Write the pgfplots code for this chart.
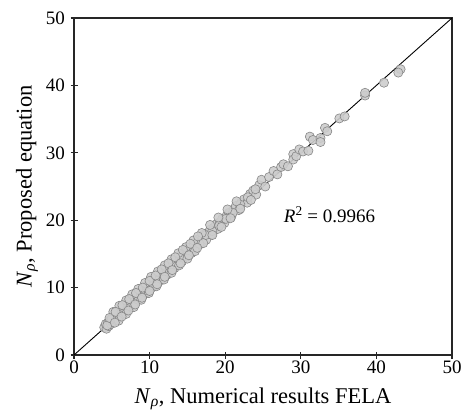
\documentclass[border=0pt]{standalone}
\usepackage{pgfplots}
\pgfplotsset{compat=1.18}
\usepackage{fontspec}
\setmainfont{Liberation Serif}

\definecolor{markfill}{RGB}{205,205,205}
\definecolor{markedge}{RGB}{135,135,135}

\pgfplotstableread{
x y
4.0 4.1
4.2 4.6
4.3 3.9
4.5 4.8
4.6 4.3
4.8 5.2
4.9 4.6
5.0 5.0
5.1 5.6
5.2 4.9
5.3 5.3
5.4 5.9
5.5 5.2
5.6 5.7
5.7 6.2
5.8 5.5
5.9 6.0
6.0 6.6
6.1 5.8
6.2 6.3
6.3 6.9
6.4 6.1
6.5 6.6
6.6 7.2
6.7 6.4
6.8 7.0
6.9 7.5
7.0 6.8
7.1 7.3
7.2 7.8
7.3 7.0
7.4 7.6
7.5 8.1
7.6 7.3
7.7 7.9
7.8 8.4
7.9 7.6
8.0 8.2
8.1 8.7
8.2 7.9
8.3 8.5
8.4 9.0
8.5 8.2
8.6 8.8
8.7 9.3
8.8 8.5
8.9 9.1
9.0 9.6
9.1 8.8
9.2 9.4
9.3 9.9
9.4 9.1
9.5 9.7
9.6 10.2
9.7 9.4
9.8 10.0
9.9 10.5
10.0 9.7
10.1 10.3
10.2 10.8
10.3 10.0
10.5 10.6
10.6 11.1
10.7 10.3
10.9 11.0
11.0 11.5
11.1 10.7
11.3 11.4
11.4 11.9
11.5 11.1
11.7 11.8
11.8 12.3
11.9 11.5
12.1 12.2
12.2 12.7
12.3 11.9
12.5 12.6
12.6 13.1
12.8 12.4
13.0 13.2
13.1 13.7
13.3 12.9
13.5 13.7
13.6 14.2
13.8 13.4
14.0 14.2
14.1 14.8
14.3 13.9
14.5 14.8
14.7 15.3
14.9 14.6
15.1 15.4
15.3 16.0
15.5 15.1
15.7 16.0
15.9 16.6
16.1 15.8
16.3 16.6
16.5 17.2
16.8 16.5
17.0 17.4
17.2 17.9
17.5 17.1
17.7 18.1
18.0 18.6
18.2 17.9
18.5 18.9
18.8 19.4
19.0 18.7
19.3 19.7
19.6 20.2
19.9 19.6
20.2 20.7
20.5 21.1
20.8 20.5
21.1 21.6
21.4 22.1
21.8 21.5
22.1 22.6
22.5 23.1
22.9 22.6
23.3 23.9
23.7 24.4
24.1 23.8
24.5 25.2
24.8 26.0
25.3 25.0
25.8 26.4
26.4 27.3
26.9 26.8
27.4 27.9
27.7 28.3
28.3 28.0
29.0 29.8
29.0 29.0
29.4 29.5
29.8 30.5
30.3 30.2
31.0 30.3
31.2 32.4
31.6 31.9
32.6 32.2
32.6 31.6
33.2 33.7
33.5 33.2
35.1 35.1
35.8 35.4
38.5 38.5
38.5 38.9
41.0 40.4
43.2 42.4
42.9 41.9
4.4 4.4
5.0 5.4
5.6 5.4
6.2 6.7
6.8 6.6
7.4 7.2
8.0 8.6
8.6 8.4
9.2 9.0
9.8 10.4
10.4 10.2
11.0 11.0
11.6 12.1
12.2 12.0
12.9 13.4
13.6 13.4
14.3 14.6
15.0 15.0
15.8 16.3
16.6 16.5
17.4 17.8
18.3 18.4
19.2 19.2
20.1 20.2
21.0 21.1
22.0 22.3
23.0 23.4
24.0 24.6
5.2 6.4
6.0 7.3
6.9 8.1
7.7 9.0
8.5 9.8
9.4 10.7
10.2 11.6
11.1 12.4
12.0 13.3
12.9 14.2
13.8 15.1
14.8 16.0
15.8 17.0
16.9 18.1
18.0 19.3
19.1 20.4
20.3 21.6
21.5 22.8
5.9 5.1
6.9 6.1
7.9 7.1
8.9 8.2
9.9 9.2
10.9 10.2
11.9 11.2
12.9 12.2
13.9 13.3
15.0 14.3
16.0 15.4
17.1 16.6
18.3 17.8
19.5 19.0
20.7 20.3
22.0 21.7
23.4 23.0
4.7 5.5
5.5 6.4
6.4 7.4
7.3 8.3
8.2 9.2
9.1 10.0
10.0 11.0
10.8 11.8
11.6 12.7
12.5 13.6
13.4 14.5
14.4 15.6
15.4 16.5
16.4 17.6
5.4 4.8
6.3 5.7
7.2 6.6
8.1 7.5
9.0 8.5
10.0 9.5
11.0 10.5
12.0 11.6
13.0 12.6
14.1 13.6
15.2 14.8
16.3 15.9
}\datatable

\begin{document}
\begin{tikzpicture}
\begin{axis}[
    scale only axis,
    width=378pt,
    height=337pt,
    xmin=0, xmax=50,
    ymin=0, ymax=50,
    xtick={0,10,...,50},
    ytick={0,10,...,50},
    xtick pos=bottom,
    ytick pos=left,
    tick align=center,
    major tick length=7pt,
    axis line style={line width=1.2pt, black!85},
    every tick/.style={line width=1.1pt, black!85},
    /pgf/number format/assume math mode=true,
    ticklabel style={font=\fontsize{19}{21}\selectfont},
    label style={font=\fontsize{22.5}{25}\selectfont},
    xlabel={\textit{N}\textsubscript{\textit{ρ}}, Numerical results FELA},
    ylabel={\textit{N}\textsubscript{\textit{ρ}}, Proposed equation},
    xticklabel style={yshift=1pt},
    yticklabel style={xshift=-2pt},
    xlabel style={yshift=-7pt},
    ylabel style={yshift=1pt},
    clip=false,
  ]
  \addplot[black, line width=0.9pt] coordinates {(0,0) (50,50)};
  \addplot[only marks, mark=*, mark size=4.6pt,
    mark options={fill=markfill, draw=markedge, line width=0.6pt, fill opacity=0.9}]
    table[x=x, y=y] {\datatable};
  \node[anchor=west, font=\fontsize{19}{22}\selectfont] at (axis cs:27.3,20.8)
    {\textit{R}\textsuperscript{2} = 0.9966};
\end{axis}
\pgfresetboundingbox
\path[use as bounding box] ([shift={(-74pt,-58pt)}]current axis.south west)
  rectangle ([shift={(12pt,18pt)}]current axis.north east);
\end{tikzpicture}
\end{document}
